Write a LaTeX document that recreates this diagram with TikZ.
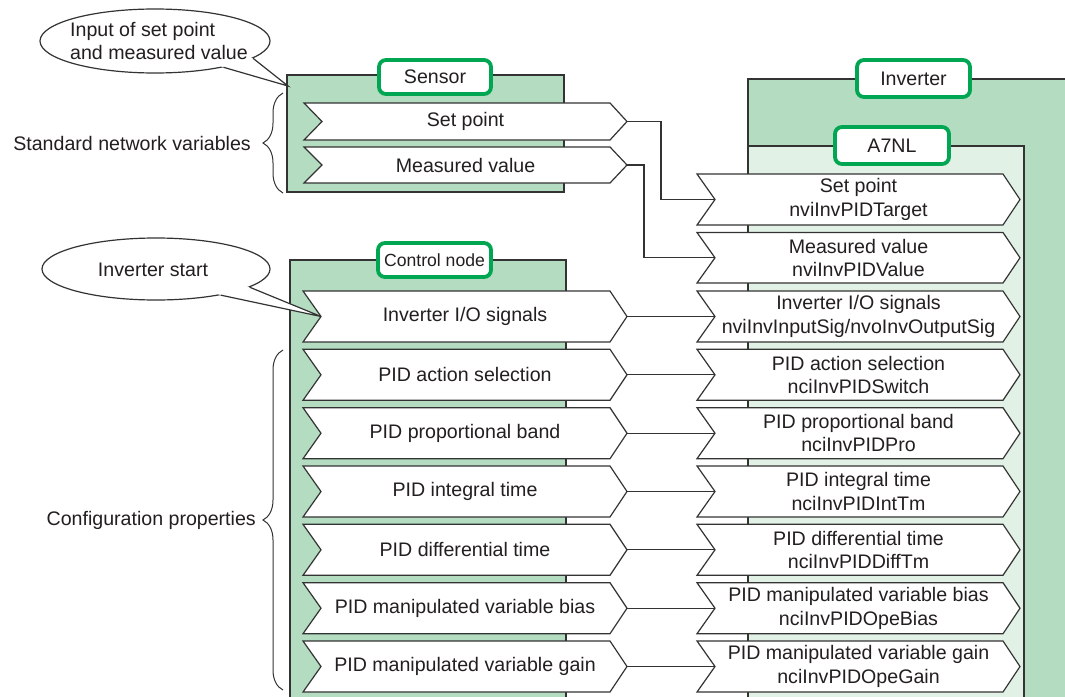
\documentclass[tikz,border=0pt]{standalone}
\usepackage{fontspec}
\setmainfont{Liberation Sans}
\usetikzlibrary{decorations.pathreplacing,shapes.geometric}
\definecolor{gA}{RGB}{179,220,192}
\definecolor{gB}{RGB}{226,241,230}
\definecolor{gL}{RGB}{0,166,81}
\definecolor{ink}{RGB}{35,31,32}
\definecolor{edge}{RGB}{51,51,51}
\newcommand\chev[6]{%
  \draw[chevst] (#2,#3) -- (#4,#3) -- ({#4+17},{(#3+#5)/2}) -- (#4,#5) -- (#2,#5) -- ({#2+18},{(#3+#5)/2}) -- cycle;
  \node[txt] (#1) at ({(#2+#4+17)/2},{(#3+#5)/2}) {#6};
  \coordinate (#1-tip) at ({#4+17},{(#3+#5)/2});
  \coordinate (#1-notch) at ({#2+18},{(#3+#5)/2});
}
\begin{document}
\begin{tikzpicture}[x=1pt,y=-1pt,
  txt/.style={inner sep=0pt, text=ink, align=center, font=\fontsize{19.6}{23.5}\selectfont},
  blk/.style={draw=edge, line width=1.2pt},
  chevst/.style={draw=edge, line width=1.2pt, fill=white, line join=miter},
  lbl/.style={draw=gL, line width=3.8pt, rounded corners=7pt, fill=white, inner sep=0pt, text=ink, font=\fontsize{19.6}{23.5}\selectfont},
  conn/.style={draw=edge, line width=1.2pt},
  brc/.style={draw=edge, line width=1pt, decorate, decoration={brace, amplitude=20pt, aspect=0.5}},
  call/.style={draw=edge, line width=1.2pt, fill=white}]
\clip (0,0) rectangle (1065,696);
\fill[white] (0,0) rectangle (1065,696);

% blocks
\draw[blk, fill=gA] (287,75) rectangle (564,192);
\draw[blk, fill=gA] (290,260) rectangle (566,710);
\draw[blk, fill=gA] (748,79) rectangle (1080,710);
\draw[blk, fill=gB] (748,146) rectangle (1024,710);

% labels
\node[lbl, minimum width=112pt, minimum height=34pt] (sensorL) at (435,77) {Sensor};
\node[lbl, minimum width=113pt, minimum height=37pt] (invL) at (913.5,78.5) {Inverter};
\node[lbl, minimum width=114pt, minimum height=37pt] (a7L) at (892,145.5) {A7NL};
\node[lbl, minimum width=113pt, minimum height=34pt, font=\fontsize{17.6}{21}\selectfont] (ctlL) at (434.5,260) {Control node};

% sensor chevrons
\chev{sSP}{304}{103}{610}{140}{Set point}
\chev{sMV}{304}{147}{610}{183}{Measured value}

% control node chevrons
\chev{cIO}{303}{291}{610}{342}{Inverter I/O signals}
\chev{cAct}{303}{349.3}{610}{400.3}{PID action selection}
\chev{cPro}{303}{407.7}{610}{458.7}{PID proportional band}
\chev{cInt}{303}{466}{610}{517}{PID integral time}
\chev{cDif}{303}{524.3}{610}{575.3}{PID differential time}
\chev{cBia}{303}{582.7}{610}{633.7}{PID manipulated variable bias}
\chev{cGai}{303}{641}{610}{692}{PID manipulated variable gain}

% A7NL chevrons
\chev{aSP}{697}{174}{1003}{225}{Set point\\nviInvPIDTarget}
\chev{aMV}{697}{232.5}{1003}{283}{Measured value\\nviInvPIDValue}
\chev{aIO}{697}{291}{1003}{342}{Inverter I/O signals\\nviInvInputSig/nvoInvOutputSig}
\chev{aAct}{697}{349.3}{1003}{400.3}{PID action selection\\nciInvPIDSwitch}
\chev{aPro}{697}{407.7}{1003}{458.7}{PID proportional band\\nciInvPIDPro}
\chev{aInt}{697}{466}{1003}{517}{PID integral time\\nciInvPIDIntTm}
\chev{aDif}{697}{524.3}{1003}{575.3}{PID differential time\\nciInvPIDDiffTm}
\chev{aBia}{697}{582.7}{1003}{633.7}{PID manipulated variable bias\\nciInvPIDOpeBias}
\chev{aGai}{697}{641}{1003}{692}{PID manipulated variable gain\\nciInvPIDOpeGain}

% connectors
\draw[conn] (sSP-tip) -- ++(34,0) |- (aSP-notch);
\draw[conn] (sMV-tip) -- ++(17,0) |- (aMV-notch);
\draw[conn] (cIO-tip) -- (aIO-notch);
\draw[conn] (cAct-tip) -- (aAct-notch);
\draw[conn] (cPro-tip) -- (aPro-notch);
\draw[conn] (cInt-tip) -- (aInt-notch);
\draw[conn] (cDif-tip) -- (aDif-notch);
\draw[conn] (cBia-tip) -- (aBia-notch);
\draw[conn] (cGai-tip) -- (aGai-notch);

% braces
\draw[brc] (283,193) -- (283,93);
\node[txt, anchor=east] (snv) at (251,143) {Standard network variables};
\draw[brc] (283,690) -- (283,350);
\node[txt, anchor=east] (cfg) at (256,520) {Configuration properties};

% callouts
\node[call, ellipse, minimum width=230pt, minimum height=64pt, inner sep=0pt] (call1) at (155,41) {};
\coordinate (tip1) at (288,86);
\fill[white] (call1.-10) -- (tip1) -- (call1.-21.5) -- (call1.center) -- cycle;
\draw[conn] (call1.-10) -- (tip1) -- (call1.-21.5);
\node[txt, align=left] (call1t) at (159,41) {Input of set point\\and measured value};

\node[call, ellipse, minimum width=228pt, minimum height=62pt, inner sep=0pt] (call2) at (156,269) {};
\fill[white] (call2.-11.7) -- (cIO-notch) -- (call2.-22) -- (call2.center) -- cycle;
\draw[conn] (call2.-11.7) -- (cIO-notch) -- (call2.-22);
\node[txt] (call2t) at (153,270) {Inverter start};
\end{tikzpicture}
\end{document}
